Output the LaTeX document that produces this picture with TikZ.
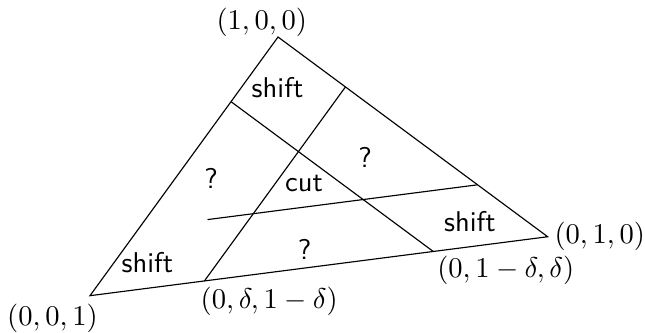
\documentclass[tikz,border=0pt]{standalone}
\usepackage{amsmath, amssymb}
\usepackage{tikz}
\usetikzlibrary{calc, positioning}

\begin{document}
\begin{tikzpicture}[>=latex, scale=1.0,
    region/.style={font=\sffamily},
    vlabel/.style={inner sep=0pt}]
    \useasboundingbox (0,0) rectangle (7.934,4.084);

    % 1. Ba đỉnh của tam giác
    \coordinate (A) at (3.420,3.629);
    \coordinate (B) at (6.737,1.172);
    \coordinate (C) at (1.107,0.447);

    % 2. Các điểm chia (delta = 0.25)
    \coordinate (AC) at (barycentric cs:A=0.75,C=0.25);
    \coordinate (AB) at (barycentric cs:A=0.75,B=0.25);
    \coordinate (BA) at (barycentric cs:A=0.26,B=0.74);
    \coordinate (CB) at (barycentric cs:B=0.25,C=0.75);
    \coordinate (BC) at (barycentric cs:B=0.75,C=0.25);
    \coordinate (M) at (barycentric cs:A=0.26,B=0.15,C=0.59);

    % 3. Tam giác và các đường cắt
    \draw (A) -- (B) -- (C) -- cycle;
    \draw (AC) -- (BC);
    \draw (AB) -- (CB);
    \draw (M) -- (BA);

    % 4. Nhãn các đỉnh
    \node[vlabel, anchor=south, xshift=-5.7pt] (lA) at (A) {$(1,0,0)$};
    \node[vlabel, anchor=west, xshift=2.2pt] (lB) at (B) {$(0,1,0)$};
    \node[vlabel, anchor=north east, xshift=2.9pt, yshift=-2.7pt] (lC) at (C) {$(0,0,1)$};
    \node[vlabel, anchor=north west, xshift=1.2pt, yshift=-1.3pt] (lBC) at (BC) {$(0,1-\delta,\delta)$};
    \node[vlabel, anchor=north west, xshift=-1.5pt, yshift=-2pt] (lCB) at (CB) {$(0,\delta,1-\delta)$};

    % 5. Nhãn các miền
    \node[region] (shiftA) at (3.414,3.001) {shift};
    \node[region] (shiftB) at (5.781,1.353) {shift};
    \node[region] (shiftC) at (1.814,0.849) {shift};
    \node[region] (cut) at (3.740,1.833) {cut};
    \node[region] (qL) at (2.596,1.894) {?};
    \node[region] (qR) at (4.490,2.153) {?};
    \node[region] (qB) at (3.748,1.021) {?};
\end{tikzpicture}
\end{document}
